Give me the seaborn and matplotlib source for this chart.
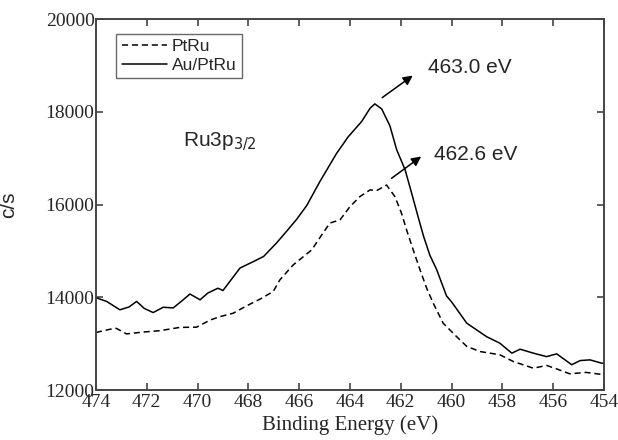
import pandas as pd
import matplotlib
matplotlib.use("Agg")
import matplotlib.pyplot as plt
import seaborn as sns

# binding energy (eV) and counts
au_x = [474.0, 473.58, 473.06, 472.7, 472.4, 472.1, 471.75, 471.35, 470.96, 470.6,
        470.3, 469.9, 469.6, 469.2, 469.0, 468.33, 467.8, 467.4, 466.9, 466.5,
        466.1, 465.7, 465.2, 464.53, 464.07, 463.54, 463.21, 463.02, 462.75, 462.43,
        462.16, 461.83, 461.55, 461.3, 461.1, 460.85, 460.59, 460.2, 460.0, 459.4,
        458.62, 458.1, 457.63, 457.3, 456.78, 456.26, 455.86, 455.27, 454.94, 454.55,
        454.1, 454.0]
au_y = [13990, 13910, 13730, 13790, 13910, 13760, 13670, 13785, 13770, 13930,
        14070, 13945, 14090, 14195, 14145, 14630, 14770, 14880, 15165, 15420,
        15680, 15980, 16480, 17100, 17460, 17790, 18075, 18170, 18060, 17700,
        17180, 16750, 16200, 15700, 15310, 14900, 14600, 14030, 13900, 13440,
        13150, 13010, 12795, 12880, 12795, 12720, 12780, 12545, 12635, 12650,
        12580, 12580]

ptru_x = [474.0, 473.45, 473.2, 472.8, 472.14, 471.48, 470.7, 470.04, 469.5, 469.1,
          468.6, 468.07, 467.54, 467.02, 466.76, 466.23, 465.51, 465.11, 464.79, 464.39,
          464.0, 463.61, 463.21, 462.95, 462.56, 462.23, 461.97, 461.77, 461.51, 461.24,
          460.98, 460.72, 460.33, 459.8, 459.4, 458.88, 458.1, 457.57, 456.78, 456.26,
          455.86, 455.35, 454.7, 454.0]
ptru_y = [13240, 13310, 13330, 13210, 13250, 13280, 13350, 13355, 13510, 13585,
          13655, 13815, 13960, 14125, 14375, 14700, 15020, 15345, 15600, 15670,
          15955, 16170, 16315, 16300, 16420, 16170, 15810, 15450, 15020, 14590,
          14195, 13870, 13440, 13150, 12940, 12830, 12760, 12615, 12470, 12530,
          12455, 12350, 12380, 12330]

df = pd.concat([
    pd.DataFrame({"energy": ptru_x, "cps": ptru_y, "sample": "PtRu"}),
    pd.DataFrame({"energy": au_x, "cps": au_y, "sample": "Au/PtRu"}),
])

sns.set_style("ticks")
serif = "Liberation Serif"
sans = "Liberation Sans"

fig = plt.figure(figsize=(6.18, 4.4), dpi=100)
ax = fig.add_axes([0.1553, 0.1136, 0.822, 0.8432])

sns.lineplot(data=df, x="energy", y="cps", style="sample", style_order=["PtRu", "Au/PtRu"],
             dashes=[(4, 2.5), ""], color="black", linewidth=1.1, sort=False, ax=ax)

ax.set_xlim(474, 454)
ax.set_ylim(12000, 20000)
ax.set_xticks(range(474, 453, -2))
ax.set_yticks(range(12000, 20001, 2000))
ax.tick_params(direction="in", length=5, width=1.2, top=True, right=True,
               color="#444444", labelsize=14)
ax.tick_params(axis="x", pad=3)
ax.tick_params(axis="y", pad=1)
for lab in ax.get_xticklabels() + ax.get_yticklabels():
    lab.set_fontfamily(serif)
for s in ax.spines.values():
    s.set_color("#444444")
    s.set_linewidth(1.4)

ax.set_xlabel("Binding Energy (eV)", fontfamily=serif, fontsize=15, labelpad=3)
ax.set_ylabel("c/s", fontfamily=sans, fontsize=15, labelpad=20)

leg = ax.legend(loc="upper left", bbox_to_anchor=(0.04, 0.96), prop={"family": sans, "size": 12.5},
                frameon=True, fancybox=False, handlelength=2.6, handletextpad=0.3,
                borderpad=0.3, labelspacing=0.2, borderaxespad=0)
leg.get_frame().set_edgecolor("#444444")
leg.get_frame().set_linewidth(1.0)

ax.text(470.57, 17350, r"Ru3p$_{3/2}$", fontfamily=sans, fontsize=15, va="center")

ax.annotate("", xy=(461.44, 18815), xytext=(462.82, 18270),
            arrowprops=dict(arrowstyle="-|>", color="black", lw=1.1, mutation_scale=14))
ax.text(460.93, 18965, "463.0 eV", fontfamily=sans, fontsize=15, va="center")
ax.annotate("", xy=(461.11, 17070), xytext=(462.45, 16530),
            arrowprops=dict(arrowstyle="-|>", color="black", lw=1.1, mutation_scale=14))
ax.text(460.69, 17070, "462.6 eV", fontfamily=sans, fontsize=15, va="center")

fig.savefig("out.png", dpi=100)
